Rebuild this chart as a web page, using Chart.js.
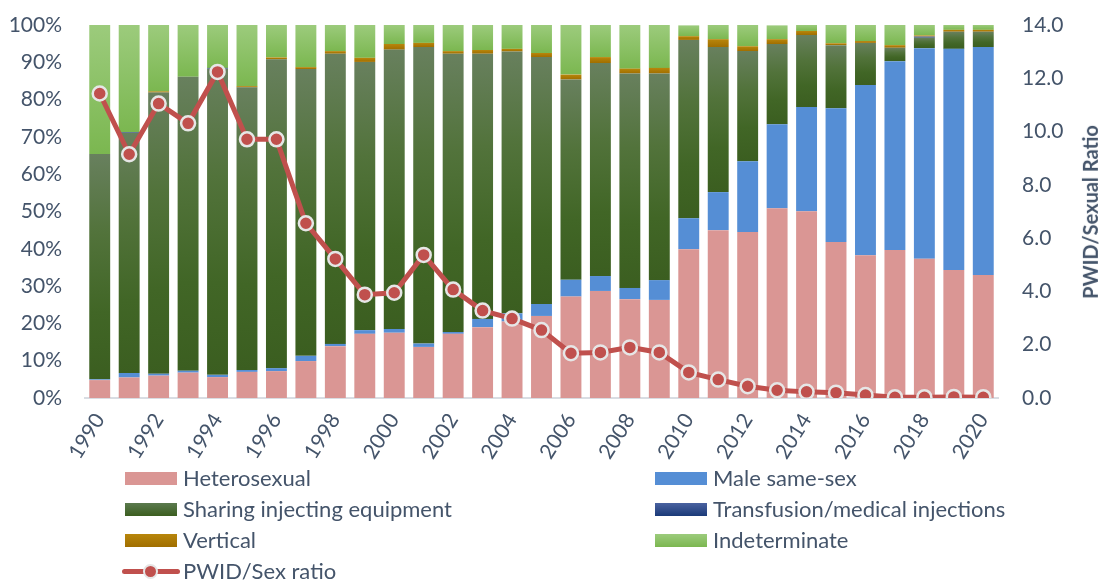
<!DOCTYPE html>
<html>
<head>
<meta charset="utf-8">
<script src="https://cdn.jsdelivr.net/npm/chart.js@4/dist/chart.umd.min.js"></script>
<style>
  html, body { margin: 0; padding: 0; background: #ffffff; }
  #wrap { position: relative; width: 1102px; height: 581px; overflow: hidden; font-family: Lato, "Open Sans", sans-serif; color: #44546A; }
  #c { position: absolute; left: 0; top: 0; }
  .lg { position: absolute; font-size: 22px; line-height: 24px; white-space: nowrap; }
  .box { position: absolute; width: 52px; height: 13px; }
  #ytitle { position: absolute; font-weight: bold; font-size: 20px; white-space: nowrap; transform-origin: center center; }
</style>
</head>
<body>
<div id="wrap">
  <canvas id="c" width="1102" height="581"></canvas>
  <div id="legend"></div>
  <div id="ytitle">PWID/Sexual Ratio</div>
</div>
<script>
const years = ['1990','1991','1992','1993','1994','1995','1996','1997','1998','1999','2000','2001','2002','2003','2004','2005','2006','2007','2008','2009','2010','2011','2012','2013','2014','2015','2016','2017','2018','2019','2020'];

const heterosexual = [4.8,5.5,6.0,6.8,5.6,7.0,7.2,9.9,13.9,17.2,17.5,13.7,17.2,19.0,20.5,22.0,27.2,28.7,26.5,26.3,39.9,45.0,44.5,50.9,50.1,41.8,38.3,39.7,37.3,34.3,33.0];
const maleSameSex = [0.2,1.2,0.5,0.5,0.6,0.5,0.8,1.4,0.6,1.0,1.0,0.9,0.5,2.2,2.2,3.2,4.5,4.0,3.0,5.3,8.3,10.2,19.0,22.5,27.9,35.9,45.6,50.6,56.5,59.3,61.1];
const sharingInjecting = [60.4,64.4,75.4,78.8,82.1,75.8,82.8,76.9,77.8,71.9,74.9,79.5,74.6,71.1,70.2,66.2,53.7,57.1,57.5,55.4,47.8,38.9,29.5,21.5,19.3,16.9,11.3,3.6,2.8,4.6,4.1];
const transfusion = [0,0.2,0,0,0.2,0,0,0,0,0,0,0,0,0,0,0,0,0,0,0,0,0,0,0,0,0,0,0,0.3,0,0];
const vertical = [0,0,0.3,0,0,0.3,0.5,0.5,0.7,1.1,1.5,1.1,0.7,1.0,0.7,1.1,1.3,1.6,1.3,1.5,1.0,2.1,1.3,1.3,1.1,0.5,0.5,0.7,0.3,0.5,0.5];
const indeterminate = [34.6,28.7,17.8,13.9,11.5,16.4,8.7,11.3,7.0,8.8,5.1,4.8,7.0,6.7,6.4,7.5,13.4,8.6,11.7,11.5,2.9,3.8,5.7,3.7,1.6,4.9,4.3,5.4,2.9,1.3,1.3];
const pwidSexRatio = [11.43,9.15,11.05,10.31,12.24,9.71,9.71,6.56,5.22,3.88,3.95,5.37,4.07,3.28,2.98,2.55,1.68,1.71,1.90,1.71,0.96,0.69,0.44,0.29,0.23,0.20,0.11,0.03,0.03,0.04,0.03];

const pctTicks = [0,10,20,30,40,50,60,70,80,90,100];
const ratioTicks = [0,2,4,6,8,10,12,14];

const TEXT = '#44546A';
const FONT = 'Lato, "Open Sans", sans-serif';

const stackSeries = [heterosexual, maleSameSex, sharingInjecting, transfusion, vertical, indeterminate];

function gradientFill(dsIndex, stops, fallback) {
  return function(ctx) {
    if (ctx.type !== 'data') return fallback;
    const chart = ctx.chart;
    const ys = chart.scales && chart.scales.y;
    if (!chart.chartArea || !ys) return fallback;
    const i = ctx.dataIndex;
    let bottom = 0;
    for (let k = 0; k < dsIndex; k++) bottom += stackSeries[k][i];
    const top = bottom + stackSeries[dsIndex][i];
    const y0 = ys.getPixelForValue(Math.min(top, 100));
    const y1 = ys.getPixelForValue(Math.min(bottom, 100));
    if (!isFinite(y0) || !isFinite(y1) || Math.abs(y1 - y0) < 0.5) return fallback;
    const g = chart.ctx.createLinearGradient(0, y0, 0, y1);
    stops.forEach(s => g.addColorStop(s[0], s[1]));
    return g;
  };
}

const barCommon = { type: 'bar', yAxisID: 'y', stack: 's', order: 1, barPercentage: 0.71, categoryPercentage: 1.0, borderWidth: 0 };

const data = {
  labels: years,
  datasets: [
    Object.assign({}, barCommon, { label: 'Heterosexual', data: heterosexual, backgroundColor: '#DA9694' }),
    Object.assign({}, barCommon, { label: 'Male same-sex', data: maleSameSex, backgroundColor: '#558ED5' }),
    Object.assign({}, barCommon, { label: 'Sharing injecting equipment', data: sharingInjecting,
      backgroundColor: gradientFill(2, [[0,'#68805e'],[0.35,'#52733b'],[0.7,'#416626'],[1,'#3b5e20']], '#4a6b30') }),
    Object.assign({}, barCommon, { label: 'Transfusion/medical injections', data: transfusion,
      backgroundColor: gradientFill(3, [[0,'#4a62a0'],[1,'#1b3a78']], '#233f7c') }),
    Object.assign({}, barCommon, { label: 'Vertical', data: vertical,
      backgroundColor: gradientFill(4, [[0,'#b8860b'],[1,'#a06e00']], '#a87700') }),
    Object.assign({}, barCommon, { label: 'Indeterminate', data: indeterminate,
      backgroundColor: gradientFill(5, [[0,'#9ccb7c'],[1,'#7bb750']], '#8ac163') }),
    {
      type: 'line', label: 'PWID/Sex ratio', data: pwidSexRatio, yAxisID: 'y1', order: 0,
      borderColor: '#C0504D', borderWidth: 5, tension: 0,
      pointRadius: 7, pointHoverRadius: 7, pointBackgroundColor: '#C0504D',
      pointBorderColor: '#E6E6E6', pointBorderWidth: 2.5, fill: false
    }
  ]
};

function fixVertical(width) {
  return s => { s.width = width; s.paddingTop = 12; s.paddingBottom = 12; };
}

const chart = new Chart(document.getElementById('c'), {
  data: data,
  options: {
    responsive: false,
    animation: false,
    devicePixelRatio: 1,
    layout: { padding: { top: 25, left: 0, right: 0, bottom: 0 } },
    plugins: { legend: { display: false }, tooltip: { enabled: false } },
    scales: {
      x: {
        stacked: true,
        grid: { display: false, drawTicks: false },
        border: { display: true, color: '#D9DDE3', width: 2 },
        ticks: {
          autoSkip: false, minRotation: 58, maxRotation: 58, padding: 11,
          color: TEXT, font: { family: FONT, size: 21 },
          callback: function(v, i) { return i % 2 === 0 ? years[i] : ''; }
        },
        afterFit: s => { s.height = 183; }
      },
      y: {
        stacked: true, min: 0, max: 100, position: 'left',
        grid: { display: false, drawTicks: false },
        border: { display: false },
        afterBuildTicks: s => { s.ticks = pctTicks.map(v => ({ value: v })); },
        ticks: { padding: 23, color: TEXT, font: { family: FONT, size: 21 }, callback: v => v + '%' },
        afterFit: fixVertical(85)
      },
      y1: {
        stacked: false, min: 0, max: 14, position: 'right',
        grid: { display: false, drawTicks: false },
        border: { display: false },
        afterBuildTicks: s => { s.ticks = ratioTicks.map(v => ({ value: v })); },
        ticks: { padding: 24, color: TEXT, font: { family: FONT, size: 21 }, callback: v => Number(v).toFixed(1) },
        afterFit: fixVertical(104)
      }
    }
  }
});

// Legend (HTML)
const legendItems = [
  { label: 'Heterosexual', color: '#DA9694', col: 0, row: 0 },
  { label: 'Male same-sex', color: '#558ED5', col: 1, row: 0 },
  { label: 'Sharing injecting equipment', color: 'linear-gradient(#5b7a4e,#3b5e20)', col: 0, row: 1 },
  { label: 'Transfusion/medical injections', color: 'linear-gradient(#4a62a0,#1b3a78)', col: 1, row: 1 },
  { label: 'Vertical', color: 'linear-gradient(#b8860b,#a06e00)', col: 0, row: 2 },
  { label: 'Indeterminate', color: 'linear-gradient(#9ccb7c,#7bb750)', col: 1, row: 2 },
  { label: 'PWID/Sex ratio', line: true, col: 0, row: 3 }
];
const lg = document.getElementById('legend');
const colBox = [125, 655], colText = [183, 713];
const rowY = [478, 509, 540, 571];
legendItems.forEach(it => {
  const cy = rowY[it.row];
  if (it.line) {
    const ln = document.createElement('div');
    ln.style.cssText = 'position:absolute;left:122px;width:58px;height:5px;border-radius:3px;background:#C0504D;top:' + (cy - 2.5) + 'px';
    lg.appendChild(ln);
    const dot = document.createElement('div');
    dot.style.cssText = 'position:absolute;left:143px;width:11px;height:11px;border-radius:50%;background:#C0504D;border:2px solid #E6E6E6;top:' + (cy - 7.5) + 'px';
    lg.appendChild(dot);
  } else {
    const b = document.createElement('div');
    b.className = 'box';
    b.style.left = colBox[it.col] + 'px';
    b.style.top = (cy - 6.5) + 'px';
    b.style.background = it.color;
    lg.appendChild(b);
  }
  const t = document.createElement('div');
  t.className = 'lg';
  t.textContent = it.label;
  t.style.left = colText[it.col] + 'px';
  t.style.top = (cy - 12) + 'px';
  lg.appendChild(t);
});

// Right axis title, rotated to read bottom-to-top
const yt = document.getElementById('ytitle');
const w = yt.offsetWidth, h = yt.offsetHeight;
yt.style.left = (1090 - w / 2) + 'px';
yt.style.top = (212 - h / 2) + 'px';
yt.style.transform = 'rotate(-90deg)';
</script>
</body>
</html>
